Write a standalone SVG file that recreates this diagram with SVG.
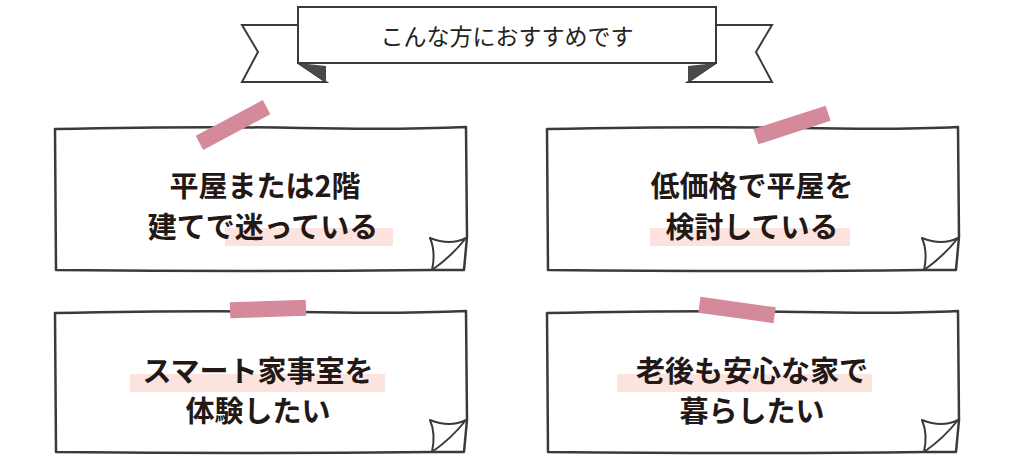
<svg xmlns="http://www.w3.org/2000/svg" width="1014" height="463" viewBox="0 0 1014 463">
<style>
.box{fill:#fff;stroke:#3a3a3a;stroke-width:2.5;stroke-linejoin:round}
.ear{fill:#fff;stroke:#3a3a3a;stroke-width:2;stroke-linejoin:round}
.tape{fill:#d48a9a}
.hl{fill:#fde3dd}
.t{font-family:"Noto Sans CJK JP",sans-serif;font-weight:bold;font-size:29px;fill:#231815;text-anchor:middle}
.bn{fill:#fff;stroke:#3a3a3a;stroke-width:2}
</style>
<g id="banner">
<polygon class="bn" points="242,25 298,25 298,63 326,82 242,82 258,52"/>
<polygon class="bn" points="772,25 716,25 716,63 688,82 772,82 756,52"/>
<polygon fill="#4a4a4a" points="298,63 326,66 326,82"/>
<polygon fill="#4a4a4a" points="716,63 688,66 688,82"/>
<rect class="bn" x="298" y="7" width="418" height="56"/>
<text x="507" y="45" font-family="'Noto Sans CJK JP',sans-serif" font-size="23" fill="#222" text-anchor="middle">こんな方におすすめです</text>
</g>
<g id="card1">
<path class="box" d="M55,129 Q200,126 300,128 T466,127 L467,237 L464,270 L432,270 Q250,272 56,270 Z"/>
<path class="ear" d="M432,270 Q436,252 430,238 Q450,246 466,238 Q452,256 432,270 Z"/>
<rect class="tape" x="-38" y="-8" width="76" height="16" transform="translate(233,125) rotate(-28)"/>
<rect class="hl" x="225" y="228" width="168" height="18"/>
<text class="t" x="265" y="197">平屋または2階</text>
<text class="t" x="263" y="238">建てで迷っている</text>
</g>
<g id="card2">
<path class="box" d="M547,129 Q700,126 800,128 T958,127 L959,237 L956,270 L924,270 Q750,272 548,270 Z"/>
<path class="ear" d="M924,270 Q928,252 922,238 Q942,246 958,238 Q944,256 924,270 Z"/>
<rect class="tape" x="-38" y="-8" width="76" height="16" transform="translate(792,125) rotate(-18)"/>
<rect class="hl" x="650" y="228" width="200" height="18"/>
<text class="t" x="752" y="197">低価格で平屋を</text>
<text class="t" x="752" y="238">検討している</text>
</g>
<g id="card3">
<path class="box" d="M55,313 Q200,310 300,312 T466,311 L467,420 L464,452 L432,452 Q250,454 56,452 Z"/>
<path class="ear" d="M432,452 Q436,434 430,420 Q450,428 466,420 Q452,438 432,452 Z"/>
<rect class="tape" x="-38" y="-8" width="76" height="16" transform="translate(268,309) rotate(-2)"/>
<rect class="hl" x="130" y="374" width="255" height="18"/>
<text class="t" x="258" y="382">スマート家事室を</text>
<text class="t" x="258" y="422">体験したい</text>
</g>
<g id="card4">
<path class="box" d="M547,313 Q700,310 800,312 T958,311 L959,420 L956,452 L924,452 Q750,454 548,452 Z"/>
<path class="ear" d="M924,452 Q928,434 922,420 Q942,428 958,420 Q944,438 924,452 Z"/>
<rect class="tape" x="-38" y="-8" width="76" height="16" transform="translate(737,310) rotate(8)"/>
<rect class="hl" x="617" y="374" width="255" height="18"/>
<text class="t" x="752" y="382">老後も安心な家で</text>
<text class="t" x="752" y="422">暮らしたい</text>
</g>
<g id="connectors"/>
</svg>
